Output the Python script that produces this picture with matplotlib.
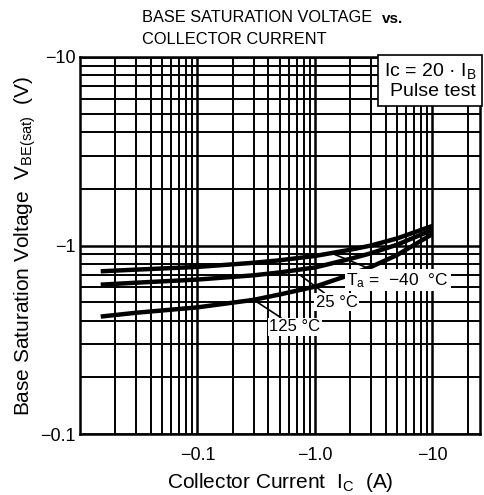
import matplotlib
matplotlib.use("Agg")
import matplotlib.pyplot as plt
import numpy as np
from matplotlib.ticker import FixedLocator, LogLocator, NullFormatter

# collector current |Ic| (A) and base saturation voltage |VBE(sat)| (V)
ic = [0.015, 0.03, 0.1, 0.3, 0.5, 1.0, 2.0, 3.0, 5.0, 10.0]
vbe_m40 = [0.73, 0.745, 0.77, 0.81, 0.835, 0.88, 0.95, 1.0, 1.09, 1.27]
vbe_25 = [0.62, 0.635, 0.66, 0.695, 0.72, 0.765, 0.85, 0.91, 1.01, 1.21]
vbe_125 = [0.42, 0.44, 0.47, 0.515, 0.55, 0.605, 0.70, 0.77, 0.89, 1.15]

x_ticks = [0.1, 1.0, 10]
x_labels = ["\u22120.1", "\u22121.0", "\u221210"]
y_ticks = [0.1, 1, 10]
y_labels = ["\u22120.1", "\u22121", "\u221210"]

plt.rcParams['font.family'] = ['Liberation Sans', 'DejaVu Sans']
plt.rcParams['mathtext.default'] = 'regular'

fig = plt.figure(figsize=(4.85, 4.95), dpi=100)
ax = fig.add_axes([0.165, 0.123, 0.825, 0.762])

ax.set_xscale('log')
ax.set_yscale('log')
ax.set_xlim(0.01, 25.5)
ax.set_ylim(0.1, 10)

# grid: dense log grid as on the datasheet
ax.xaxis.set_minor_locator(LogLocator(base=10, subs=np.arange(2, 10)))
ax.yaxis.set_minor_locator(LogLocator(base=10, subs=np.arange(2, 10)))
ax.xaxis.set_minor_formatter(NullFormatter())
ax.yaxis.set_minor_formatter(NullFormatter())
ax.grid(which='major', color='black', lw=1.8)
ax.grid(which='minor', color='black', lw=1.4)

ax.xaxis.set_major_locator(FixedLocator(x_ticks))
ax.set_xticklabels(x_labels)
ax.yaxis.set_major_locator(FixedLocator(y_ticks))
ax.set_yticklabels(y_labels)
ax.tick_params(which='both', length=0, labelsize=13)
ax.tick_params(axis='x', pad=9)
ax.tick_params(axis='y', pad=3)
for s in ax.spines.values():
    s.set_linewidth(1.8)

for v in (vbe_m40, vbe_25, vbe_125):
    ax.plot(ic, v, color='black', lw=3.2, solid_capstyle='butt', zorder=3)

# condition box
ax.text(0.99, 0.988, "Ic = 20 \u00b7 I$_B$\nPulse test", transform=ax.transAxes,
        ha='right', va='top', fontsize=14, linespacing=1.1, zorder=5,
        bbox=dict(boxstyle='square,pad=0.3', fc='white', ec='black', lw=1.2))

# curve labels
ax.annotate("T$_a$ =  \u221240  \u00b0C", xy=(1.45, 0.9), xytext=(1.85, 0.655),
            fontsize=12.5, ha='left', va='center', zorder=5,
            bbox=dict(boxstyle='square,pad=0.1', fc='white', ec='none'),
            arrowprops=dict(arrowstyle='-', color='black', lw=1.2, shrinkA=0, shrinkB=0))
ax.annotate("25 \u00b0C", xy=(0.74, 0.7), xytext=(1.02, 0.5),
            fontsize=12, ha='left', va='center', zorder=5,
            bbox=dict(boxstyle='square,pad=0.1', fc='white', ec='none'),
            arrowprops=dict(arrowstyle='-', color='black', lw=1.2, shrinkA=0, shrinkB=0))
ax.annotate("125 \u00b0C", xy=(0.3, 0.516), xytext=(0.41, 0.37),
            fontsize=12, ha='left', va='center', zorder=5,
            bbox=dict(boxstyle='square,pad=0.1', fc='white', ec='none'),
            arrowprops=dict(arrowstyle='-', color='black', lw=1.2, shrinkA=0, shrinkB=0))

fig.text(0.293, 0.979, "BASE SATURATION VOLTAGE", ha='left', va='top', fontsize=11.8)
fig.text(0.787, 0.975, "vs.", ha='left', va='top', fontsize=11, fontweight='bold')
fig.text(0.293, 0.935, "COLLECTOR CURRENT", ha='left', va='top', fontsize=11.8)
ax.set_xlabel("Collector Current  I$_C$  (A)", fontsize=15, labelpad=5)
ax.set_ylabel("Base Saturation Voltage  V$_{BE(sat)}$  (V)", fontsize=15, labelpad=2)

fig.savefig("out.png", dpi=100)
